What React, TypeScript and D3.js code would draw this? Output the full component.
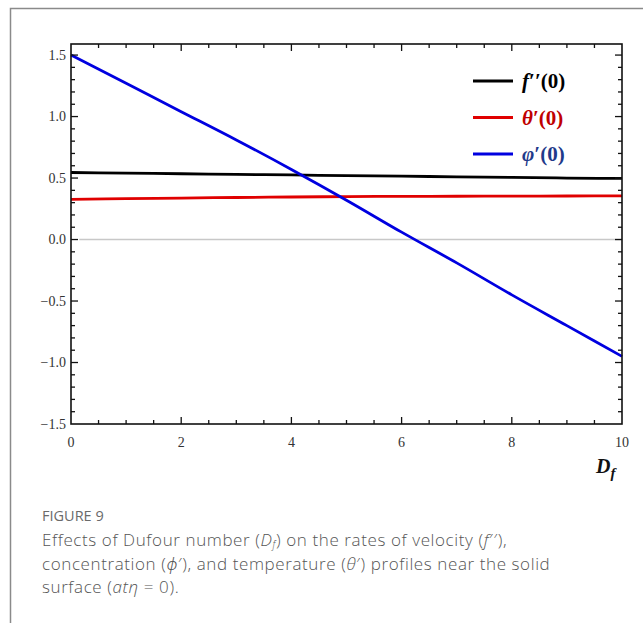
import { useEffect, useRef } from 'react';
import * as d3 from 'd3';

// Dufour number values along the x axis
const dfValues = [0, 1, 2, 3, 4, 5, 6, 7, 8, 9, 10];
// f''(0), theta'(0), phi'(0)
const fSecond = [0.545, 0.54, 0.535, 0.53, 0.525, 0.52, 0.515, 0.51, 0.505, 0.5, 0.497];
const thetaPrime = [0.326, 0.332, 0.337, 0.342, 0.346, 0.349, 0.351, 0.352, 0.353, 0.354, 0.355];
const phiPrime = [1.5, 1.27, 1.04, 0.81, 0.57, 0.32, 0.06, -0.19, -0.45, -0.7, -0.95];

const xTicks = [0, 2, 4, 6, 8, 10];
const yTicks = [-1.5, -1.0, -0.5, 0.0, 0.5, 1.0, 1.5];

const seriesList = [
  { name: 'f', values: fSecond, color: '#000000', textColor: '#000000' },
  { name: 'theta', values: thetaPrime, color: '#e00000', textColor: '#c00000' },
  { name: 'phi', values: phiPrime, color: '#0000e0', textColor: '#1f3a8a' },
];

const W = 643;
const H = 623;
const left = 71;
const right = 622;
const top = 44;
const bottom = 424;
const SERIF = "'Liberation Serif', 'Times New Roman', 'DejaVu Serif', serif";
const SANS = "'Open Sans', 'Noto Sans', sans-serif";

const App = () => {
  const svgRef = useRef(null);

  useEffect(() => {
    const svg = d3.select(svgRef.current);
    svg.selectAll('*').remove();

    const x = d3.scaleLinear().domain([0, 10]).range([left, right]);
    const y = d3.scaleLinear().domain([-1.5, 1.59]).range([bottom, top]);

    // outer page frame
    svg.append('path')
      .attr('d', `M10.5,${H} V8.5 H${W}`)
      .attr('fill', 'none')
      .attr('stroke', '#8a8a8a')
      .attr('stroke-width', 1.5);

    // zero line
    svg.append('line')
      .attr('x1', x(0.15)).attr('x2', right)
      .attr('y1', y(0)).attr('y2', y(0))
      .attr('stroke', '#c8c8c8')
      .attr('stroke-width', 1.5);

    const line = d3.line()
      .x((d, i) => x(dfValues[i]))
      .y(d => y(d))
      .curve(d3.curveMonotoneX);

    seriesList.forEach(s => {
      svg.append('path')
        .datum(s.values)
        .attr('d', line)
        .attr('fill', 'none')
        .attr('stroke', s.color)
        .attr('stroke-width', 2.8);
    });

    // frame
    svg.append('rect')
      .attr('x', left).attr('y', top)
      .attr('width', right - left).attr('height', bottom - top)
      .attr('fill', 'none')
      .attr('stroke', '#111')
      .attr('stroke-width', 1.6);

    const g = svg.append('g').attr('stroke', '#111').attr('stroke-width', 1.3);
    // x ticks: minor every 0.5, major every 2
    d3.range(0.5, 10, 0.5).forEach(v => {
      const len = Math.abs(v % 2) < 1e-6 ? 7 : 4;
      g.append('line').attr('x1', x(v)).attr('x2', x(v)).attr('y1', bottom).attr('y2', bottom - len);
      g.append('line').attr('x1', x(v)).attr('x2', x(v)).attr('y1', top).attr('y2', top + len);
    });
    // y ticks: minor every 0.1, major every 0.5
    d3.range(-14, 16).forEach(k => {
      const v = k / 10;
      const len = k % 5 === 0 ? 7 : 4;
      g.append('line').attr('x1', left).attr('x2', left + len).attr('y1', y(v)).attr('y2', y(v));
      g.append('line').attr('x1', right).attr('x2', right - len).attr('y1', y(v)).attr('y2', y(v));
    });

    // tick labels
    svg.append('g')
      .selectAll('text')
      .data(xTicks)
      .enter()
      .append('text')
      .attr('x', d => x(d))
      .attr('y', bottom + 23)
      .attr('text-anchor', 'middle')
      .attr('font-family', SERIF)
      .attr('font-size', 14)
      .attr('fill', '#333')
      .text(d => d);

    svg.append('g')
      .selectAll('text')
      .data(yTicks)
      .enter()
      .append('text')
      .attr('x', left - 5)
      .attr('y', d => y(d) + 4.5)
      .attr('text-anchor', 'end')
      .attr('font-family', SERIF)
      .attr('font-size', 14)
      .attr('fill', '#333')
      .text(d => d3.format('.1f')(d).replace('-', '\u2212'));

    // legend
    const labels = [
      ['f', '\u2032\u2032(0)'],
      ['\u03b8', '\u2032(0)'],
      ['\u03c6', '\u2032(0)'],
    ];
    seriesList.forEach((s, i) => {
      const ly = 81 + i * 36.5;
      svg.append('line')
        .attr('x1', 473).attr('x2', 513)
        .attr('y1', ly).attr('y2', ly)
        .attr('stroke', s.color)
        .attr('stroke-width', 3);
      const t = svg.append('text')
        .attr('x', 522).attr('y', ly + 7)
        .attr('font-family', SERIF)
        .attr('font-weight', 'bold')
        .attr('font-size', 21)
        .attr('fill', s.textColor);
      t.append('tspan').attr('font-style', 'italic').text(labels[i][0]);
      t.append('tspan').text(labels[i][1]);
    });

    // x axis title
    const xt = svg.append('text')
      .attr('x', 596).attr('y', 473)
      .attr('font-family', SERIF)
      .attr('font-weight', 'bold')
      .attr('font-style', 'italic')
      .attr('font-size', 20)
      .attr('fill', '#111');
    xt.append('tspan').text('D');
    xt.append('tspan').attr('dy', 5).attr('font-size', 15).text('f');

    // caption
    svg.append('text')
      .attr('x', 42).attr('y', 521)
      .attr('font-family', SANS)
      .attr('font-size', 14.5)
      .attr('fill', '#6a6a6a')
      .text('FIGURE 9');

    const cap = svg.append('g')
      .attr('font-family', SANS)
      .attr('font-size', 17)
      .attr('letter-spacing', 0.6)
      .attr('font-weight', 300)
      .attr('fill', '#555');

    const l1 = cap.append('text').attr('x', 42).attr('y', 546);
    l1.append('tspan').text('Effects of Dufour number (');
    l1.append('tspan').attr('font-style', 'italic').text('D');
    l1.append('tspan').attr('font-style', 'italic').attr('font-size', 10).attr('dy', 2).text('f');
    l1.append('tspan').attr('dy', -2).text(') on the rates of velocity (');
    l1.append('tspan').attr('font-style', 'italic').text('f');
    l1.append('tspan').text('\u2032\u2032),');

    const l2 = cap.append('text').attr('x', 42).attr('y', 569.5);
    l2.append('tspan').text('concentration (');
    l2.append('tspan').attr('font-style', 'italic').text('\u03d5');
    l2.append('tspan').text('\u2032), and temperature (');
    l2.append('tspan').attr('font-style', 'italic').text('\u03b8');
    l2.append('tspan').text('\u2032) profiles near the solid');

    const l3 = cap.append('text').attr('x', 42).attr('y', 593);
    l3.append('tspan').text('surface (');
    l3.append('tspan').attr('font-style', 'italic').text('at\u03b7');
    l3.append('tspan').text(' = 0).');
  }, []);

  return (
    <svg
      ref={svgRef}
      width={W}
      height={H}
      style={{ position: 'absolute', left: 0, top: 0, background: '#fff' }}
    ></svg>
  );
};

export default App;
